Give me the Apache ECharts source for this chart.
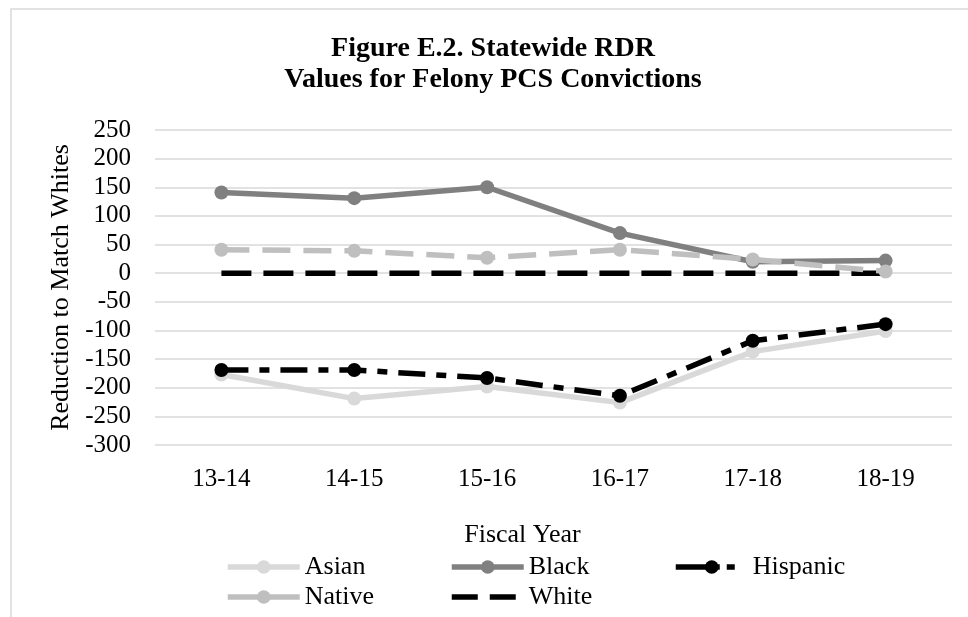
<!DOCTYPE html>
<html>
<head>
<meta charset="utf-8">
<script src="https://cdn.jsdelivr.net/npm/echarts@6/dist/echarts.min.js"></script>
<style>html,body{margin:0;padding:0;background:#fff;}#chart{width:968px;height:617px;}</style>
</head>
<body>
<div id="chart"></div>
<script>
const categories = ['13-14', '14-15', '15-16', '16-17', '17-18', '18-19'];
const asian = [-177, -219, -198, -226, -137, -101];
const black = [141, 131, 150, 70, 20, 22];
const hispanic = [-169, -169, -183, -214, -118, -89];
const native = [41, 39, 27, 41, 24, 3];
const white = [0, 0, 0, 0, 0, 0];
const yMin = -300, yMax = 250, yStep = 50;

const FONT = 'Liberation Serif';
const LW = 5.5;
const DASH_HISP = [27, 11, 10, 11];
const DASH_NATIVE = [28, 13];
const DASH_WHITE = [30, 12];
const chart = echarts.init(document.getElementById('chart'));

function lineSeries(name, data, color, dash, showSymbol, z) {
  return {
    name: name, type: 'line', data: data, z: z,
    symbol: showSymbol ? 'circle' : 'none', symbolSize: 14,
    itemStyle: { color: color },
    lineStyle: { color: color, width: LW, type: dash, cap: 'butt' },
    animation: false
  };
}

const legendText = { fontFamily: FONT, fontSize: 26, color: '#000', lineHeight: 26 };
function legendAt(left, items) {
  return {
    data: items, left: left, top: 554, orient: 'vertical',
    itemWidth: 72, itemHeight: 17, itemGap: 4,
    textStyle: legendText, padding: 0, selectedMode: false
  };
}
function legItem(name, color, dash, noSymbol) {
  const it = { name: name, lineStyle: { color: color, width: LW, type: dash, cap: 'butt' }, itemStyle: { color: color } };
  if (noSymbol) it.itemStyle = { color: color, opacity: 0 };
  return it;
}

chart.setOption({
  backgroundColor: '#fff',
  title: {
    text: 'Figure E.2. Statewide RDR\nValues for Felony PCS Convictions',
    left: 488, top: 28, textAlign: 'center',
    textStyle: { fontFamily: FONT, fontSize: 28, fontWeight: 'bold', color: '#000', lineHeight: 31 }
  },
  graphic: [{
    type: 'rect', shape: { x: 11, y: 9, width: 1000, height: 700 },
    style: { fill: 'none', stroke: '#d9d9d9', lineWidth: 1.5 }, silent: true
  }],
  legend: [
    legendAt(225, [legItem('Asian', '#d9d9d9', 'solid'), legItem('Native', '#bfbfbf', 'solid')]),
    legendAt(449, [legItem('Black', '#808080', 'solid'), legItem('White', '#000000', [26, 12], true)]),
    legendAt(673, [legItem('Hispanic', '#000000', [44, 7, 8, 20])])
  ],
  grid: { left: 155, right: 16, top: 130, bottom: 172 },
  xAxis: {
    type: 'category', data: categories, boundaryGap: true,
    name: 'Fiscal Year', nameLocation: 'middle', nameGap: 77,
    nameTextStyle: { fontFamily: FONT, fontSize: 26, color: '#000', padding: [0, 62, 0, 0] },
    axisLine: { show: false }, axisTick: { show: false },
    axisLabel: { fontFamily: FONT, fontSize: 25, color: '#000', margin: 22 },
    splitLine: { show: false }
  },
  yAxis: {
    type: 'value', min: yMin, max: yMax, interval: yStep,
    name: 'Reduction to Match Whites', nameLocation: 'middle', nameGap: 81,
    nameTextStyle: { fontFamily: FONT, fontSize: 26, color: '#000' },
    axisLine: { show: false }, axisTick: { show: false },
    axisLabel: { fontFamily: FONT, fontSize: 25, color: '#000', margin: 24 },
    splitLine: { lineStyle: { color: '#d9d9d9', width: 1.5 } }
  },
  series: [
    lineSeries('White', white, '#000000', DASH_WHITE, false, 1),
    lineSeries('Asian', asian, '#d9d9d9', 'solid', true, 2),
    lineSeries('Black', black, '#808080', 'solid', true, 3),
    lineSeries('Hispanic', hispanic, '#000000', DASH_HISP, true, 4),
    lineSeries('Native', native, '#bfbfbf', DASH_NATIVE, true, 5)
  ]
});
</script>
</body>
</html>
